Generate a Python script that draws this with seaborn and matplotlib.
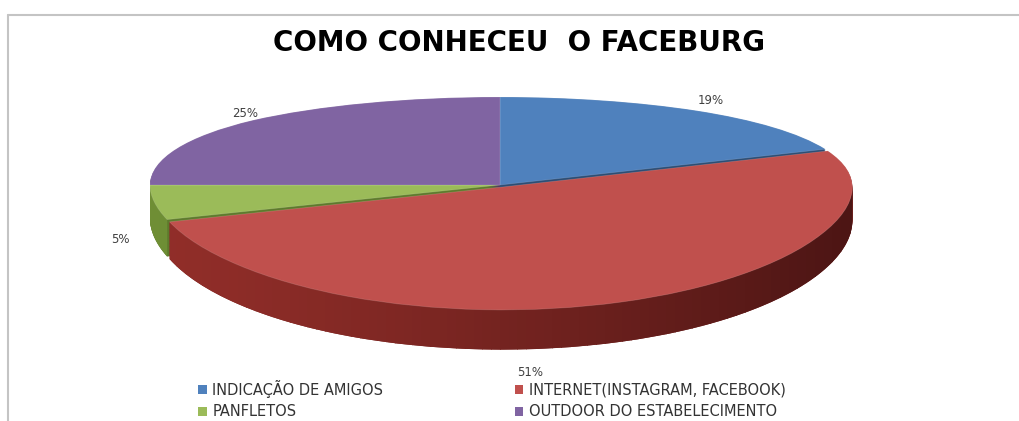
import numpy as np
import matplotlib
matplotlib.use("Agg")
import matplotlib.pyplot as plt
import seaborn as sns
from matplotlib.patches import Patch, Polygon
from matplotlib.lines import Line2D
from matplotlib.collections import PolyCollection
from matplotlib.colors import to_rgb

# ---- data ----
categories = ["INDICAÇÃO DE AMIGOS", "INTERNET(INSTAGRAM, FACEBOOK)",
              "PANFLETOS", "OUTDOOR DO ESTABELECIMENTO"]
values = [19, 51, 5, 25]
title = "COMO CONHECEU  O FACEBURG"

# ---- style ----
sns.set_theme(style="white")
plt.rcParams['font.family'] = ['DejaVu Sans']

top_colors = ["#4F81BD", "#C0504D", "#9BBB59", "#8064A2"]
side_colors = ["#2c4d74", "#7a2421", "#5e7a2c", "#4d3a66"]
side_light = ["#3a6394", "#922e29", "#6f8f35", "#5d4780"]
side_dark = ["#1f3756", "#4a1413", "#44591f", "#3a2b4d"]
explode = [0.0, 0.02, 0.0, 0.0]

W, H = 1020, 421
fig = plt.figure(figsize=(W / 100, H / 100), dpi=100)
ax = fig.add_axes([0, 0, 1, 1])

# geometry (pixels)
cx, cy = 500, 185      # centre
rx = 350               # horizontal radius px
K = 105.2              # vertical px per unit (before perspective)
s = 0.215              # perspective strength (front larger than back)
depth = 0.30           # thickness in data units

# perspective-like vertical scale
_grid = np.linspace(-6, 6, 4001)


def fwd(y):
    y = np.asarray(y, dtype=float)
    return y * (1 - s * np.tanh(y))


_fgrid = fwd(_grid)


def inv(v):
    return np.interp(v, _fgrid, _grid)


ax.set_yscale('function', functions=(fwd, inv))

# side wall: stacked pies
n_layers = 50
for d in np.linspace(depth, 0.0, n_layers, endpoint=False):
    ax.pie(values, colors=side_colors, startangle=90, counterclock=False,
           center=(0, -d), explode=explode, radius=1.0,
           wedgeprops=dict(linewidth=0))

# top surface (created now to get the wedge geometry; drawn above the shading)
wedges, _ = ax.pie(values, colors=top_colors, startangle=90, counterclock=False,
                   center=(0, 0), explode=explode, radius=1.0,
                   wedgeprops=dict(linewidth=0.6, edgecolor=(1, 1, 1, 0.15)))
for w in wedges:
    w.set_zorder(5)

# horizontal shading of the visible front walls
xs = np.linspace(-1.05, 1.05, 85)
for i, w in enumerate(wedges):
    t1, t2 = w.theta1, w.theta2
    # visible front part: angles in the lower half
    a = max(t1, -180.0) if t1 < 0 else max(t1 - 360, -180.0)
    b = min(t2, 0.0) if t1 < 0 else min(t2 - 360, 0.0)
    if b <= a:
        continue
    ccx, ccy = w.center
    ang = np.deg2rad(np.linspace(a, b, 120))
    topx = ccx + np.cos(ang)
    topy = ccy + np.sin(ang)
    poly = np.vstack([np.column_stack([topx, topy]),
                      np.column_stack([topx[::-1], topy[::-1] - depth])])
    clip = Polygon(poly, closed=True, transform=ax.transData,
                   facecolor="none", edgecolor="none")
    ax.add_patch(clip)
    c0, c1 = np.array(to_rgb(side_light[i])), np.array(to_rgb(side_dark[i]))
    rects, cols = [], []
    for j in range(len(xs) - 1):
        t = (j + 0.5) / (len(xs) - 1)
        rects.append([(xs[j], -2.5), (xs[j + 1] + 0.002, -2.5),
                      (xs[j + 1] + 0.002, 0.5), (xs[j], 0.5)])
        cols.append(c0 + (c1 - c0) * t ** 1.3)
    pc = PolyCollection(rects, facecolors=cols, edgecolors="none", zorder=3)
    ax.add_collection(pc)
    pc.set_clip_path(clip)

ax.set_aspect('auto')
ax.set_xlim(-cx / rx, (W - cx) / rx)
ax.set_ylim(float(inv(-(H - cy) / K)), float(inv(cy / K)))
ax.axis('off')

# percentage labels
label_offsets = [(-10, 2), (-105, -16), (8, 0), (22, 0)]   # px adjustment
total = sum(values)
for w, v, off in zip(wedges, values, label_offsets):
    mid = np.deg2rad((w.theta1 + w.theta2) / 2)
    cxw, cyw = w.center
    x = cxw + 1.12 * np.cos(mid)
    y = cyw + 1.12 * np.sin(mid)
    if np.sin(mid) < 0:
        y -= depth
    ax.annotate(f"{round(100 * v / total)}%", (x, y), xytext=off,
                textcoords="offset pixels", ha="center", va="center",
                fontsize=8.5, color="#404040", zorder=6)

# border lines (top and left)
fig.add_artist(Line2D([8.5 / W, 1], [1 - 14.5 / H, 1 - 14.5 / H],
                      transform=fig.transFigure, color="#c4c4c4", lw=1.5))
fig.add_artist(Line2D([8.5 / W, 8.5 / W], [0, 1 - 14.5 / H],
                      transform=fig.transFigure, color="#c4c4c4", lw=1.5))

# title
fig.text(519 / W, 1 - 43 / H, title, ha="center", va="center",
         fontsize=20, fontweight="bold", color="#000000")

# legend
order = [0, 2, 1, 3]
handles = [Patch(facecolor=top_colors[i], edgecolor="none") for i in order]
labels = [categories[i] for i in order]
fig.legend(handles, labels, ncol=2, frameon=False,
           loc="upper left", bbox_to_anchor=(192 / W, 1 - 374 / H),
           fontsize=10.5, handlelength=0.6, handleheight=0.6,
           handletextpad=0.4, columnspacing=9.0, labelspacing=0.45,
           labelcolor="#333333", borderaxespad=0)

fig.savefig("out.png", dpi=100)
